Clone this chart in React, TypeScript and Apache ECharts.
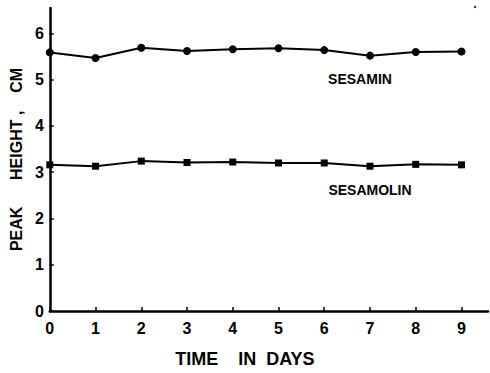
import React, { useEffect, useRef } from "react";
import * as echarts from "echarts";

const days = [0, 1, 2, 3, 4, 5, 6, 7, 8, 9];
const sesamin = [5.59, 5.47, 5.69, 5.62, 5.66, 5.68, 5.64, 5.52, 5.6, 5.61];
const sesamolin = [3.16, 3.13, 3.24, 3.21, 3.22, 3.2, 3.2, 3.13, 3.17, 3.16];
const xTicks = [0, 1, 2, 3, 4, 5, 6, 7, 8, 9];
const yTicks = [0, 1, 2, 3, 4, 5, 6];

export default function App() {
  const ref = useRef<HTMLDivElement>(null);
  useEffect(() => {
    if (!ref.current) return;
    const chart = echarts.init(ref.current, undefined, { renderer: "svg" });
    const font = "Liberation Sans";
    chart.setOption({
      animation: false,
      backgroundColor: "#ffffff",
      grid: { left: 48, top: 8, right: 2, bottom: 58, containLabel: false },
      xAxis: {
        type: "value",
        min: 0,
        max: 9.58,
        name: "TIME    IN  DAYS",
        nameLocation: "middle",
        nameGap: 39,
        nameTextStyle: {
          fontFamily: font,
          fontSize: 18,
          color: "#000",
          fontWeight: "bold",
          padding: [0, 48, 0, 0],
        },
        axisLine: { lineStyle: { color: "#000", width: 2.5 } },
        axisTick: { inside: true, length: 4, customValues: xTicks, lineStyle: { color: "#000", width: 1.5 } },
        axisLabel: {
          customValues: xTicks,
          fontFamily: font,
          fontSize: 16,
          fontWeight: "bold",
          color: "#000",
          margin: 9,
        },
        splitLine: { show: false },
      },
      yAxis: {
        type: "value",
        min: 0,
        max: 6.55,
        name: "PEAK      HEIGHT ,    CM",
        nameLocation: "middle",
        nameGap: 22,
        nameTextStyle: { fontFamily: font, fontSize: 16, color: "#000", fontWeight: "bold" },
        axisLine: { show: true, lineStyle: { color: "#000", width: 2.5 } },
        axisTick: { show: true, inside: true, length: 4, customValues: yTicks, lineStyle: { color: "#000", width: 1.5 } },
        axisLabel: {
          customValues: yTicks,
          fontFamily: font,
          fontSize: 16,
          fontWeight: "bold",
          color: "#000",
          margin: 6,
        },
        splitLine: { show: false },
      },
      series: [
        {
          name: "SESAMIN",
          type: "line",
          data: days.map((d, i) => [d, sesamin[i]]),
          symbol: "circle",
          symbolSize: 8,
          itemStyle: { color: "#000" },
          lineStyle: { color: "#000", width: 2 },
        },
        {
          name: "SESAMOLIN",
          type: "line",
          data: days.map((d, i) => [d, sesamolin[i]]),
          symbol: "rect",
          symbolSize: 7,
          itemStyle: { color: "#000" },
          lineStyle: { color: "#000", width: 2 },
        },
      ],
      graphic: [
        {
          type: "text",
          x: 360,
          y: 79,
          style: {
            text: "SESAMIN",
            fontFamily: font,
            fontSize: 14,
            fontWeight: "bold",
            fill: "#000",
            align: "center",
            verticalAlign: "middle",
          },
        },
        {
          type: "text",
          x: 370,
          y: 190,
          style: {
            text: "SESAMOLIN",
            fontFamily: font,
            fontSize: 14,
            fontWeight: "bold",
            fill: "#000",
            align: "center",
            verticalAlign: "middle",
          },
        },
        { type: "circle", shape: { cx: 475, cy: 7, r: 1 }, style: { fill: "#000" } },
      ],
    });
    return () => chart.dispose();
  }, []);
  return (
    <div
      ref={ref}
      style={{ position: "fixed", left: 0, top: 0, width: 490, height: 373 }}
    />
  );
}
